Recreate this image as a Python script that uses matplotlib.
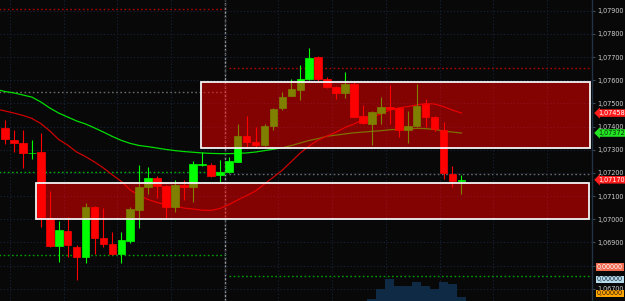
import numpy as np
import matplotlib
matplotlib.use('Agg')
import matplotlib.pyplot as plt
import matplotlib.transforms as mtransforms
from matplotlib.ticker import FuncFormatter

""" Candles (EURUSD style, 52 bars) """
opens = [1.07392, 1.07342, 1.07327, 1.07284, 1.07291, 1.07004, 1.06885, 1.06949, 1.06881, 1.06835,
         1.07051, 1.06920, 1.06893, 1.06850, 1.06907, 1.07039, 1.07140, 1.07176, 1.07143, 1.07054,
         1.07147, 1.07138, 1.07234, 1.07234, 1.07191, 1.07202, 1.07248, 1.07359, 1.07334, 1.07320,
         1.07402, 1.07479, 1.07533, 1.07558, 1.07604, 1.07699, 1.07604, 1.07569, 1.07543, 1.07584,
         1.07445, 1.07411, 1.07457, 1.07486, 1.07479, 1.07385, 1.07402, 1.07496, 1.07442, 1.07385,
         1.07195, 1.07164]
highs = [1.07428, 1.07385, 1.07385, 1.07342, 1.07371, 1.07123, 1.06993, 1.07011, 1.06888, 1.07068,
         1.07057, 1.07047, 1.06946, 1.06946, 1.07052, 1.07234, 1.07224, 1.07186, 1.07147, 1.07169,
         1.07169, 1.07251, 1.07291, 1.07241, 1.07255, 1.07268, 1.07411, 1.07445, 1.07397, 1.07411,
         1.07480, 1.07550, 1.07604, 1.07666, 1.07738, 1.07704, 1.07612, 1.07575, 1.07634, 1.07593,
         1.07493, 1.07465, 1.07526, 1.07579, 1.07486, 1.07467, 1.07584, 1.07517, 1.07445, 1.07421,
         1.07229, 1.07191]
lows = [1.07323, 1.07291, 1.07220, 1.07258, 1.06967, 1.06878, 1.06814, 1.06838, 1.06737, 1.06809,
        1.06850, 1.06881, 1.06845, 1.06809, 1.06896, 1.06960, 1.07109, 1.07090, 1.07004, 1.07032,
        1.07083, 1.07074, 1.07229, 1.07181, 1.07157, 1.07199, 1.07247, 1.07306, 1.07310, 1.07316,
        1.07385, 1.07471, 1.07530, 1.07514, 1.07601, 1.07593, 1.07566, 1.07517, 1.07522, 1.07439,
        1.07413, 1.07320, 1.07411, 1.07411, 1.07356, 1.07330, 1.07398, 1.07399, 1.07381, 1.07172,
        1.07140, 1.07109]
closes = [1.07345, 1.07327, 1.07284, 1.07287, 1.07011, 1.06885, 1.06953, 1.06888, 1.06835, 1.07051,
          1.06920, 1.06893, 1.06848, 1.06910, 1.07042, 1.07140, 1.07176, 1.07144, 1.07054, 1.07147,
          1.07140, 1.07238, 1.07238, 1.07188, 1.07205, 1.07252, 1.07359, 1.07334, 1.07320, 1.07402,
          1.07474, 1.07526, 1.07561, 1.07604, 1.07695, 1.07604, 1.07569, 1.07543, 1.07584, 1.07442,
          1.07416, 1.07461, 1.07486, 1.07476, 1.07385, 1.07402, 1.07490, 1.07442, 1.07388, 1.07198,
          1.07166, 1.07170]

# moving averages, first value belongs to the bar before the visible ones
ma_slow = [1.07560, 1.07551, 1.07545, 1.07536, 1.07527, 1.07506, 1.07480, 1.07458, 1.07441, 1.07424,
           1.07411, 1.07394, 1.07376, 1.07357, 1.07340, 1.07327, 1.07318, 1.07313, 1.07307, 1.07301,
           1.07296, 1.07292, 1.07289, 1.07286, 1.07284, 1.07283, 1.07283, 1.07284, 1.07286, 1.07290,
           1.07296, 1.07302, 1.07308, 1.07318, 1.07329, 1.07340, 1.07348, 1.07358, 1.07363, 1.07368,
           1.07373, 1.07376, 1.07379, 1.07382, 1.07386, 1.07388, 1.07390, 1.07392, 1.07391, 1.07387,
           1.07381, 1.07376, 1.07372]
ma_fast = [1.07476, 1.07467, 1.07458, 1.07448, 1.07435, 1.07413, 1.07381, 1.07344, 1.07320, 1.07290,
           1.07270, 1.07247, 1.07221, 1.07191, 1.07163, 1.07126, 1.07102, 1.07085, 1.07072, 1.07063,
           1.07057, 1.07048, 1.07044, 1.07039, 1.07038, 1.07046, 1.07063, 1.07083, 1.07102, 1.07122,
           1.07152, 1.07182, 1.07212, 1.07249, 1.07286, 1.07316, 1.07342, 1.07359, 1.07376, 1.07396,
           1.07411, 1.07430, 1.07441, 1.07454, 1.07471, 1.07480, 1.07486, 1.07493, 1.07499, 1.07497,
           1.07486, 1.07471, 1.07458]

# volume of the last bars
vol_idx = [41, 42, 43, 44, 45, 46, 47, 48, 49, 50, 51]
volume = [46, 276, 522, 352, 352, 444, 352, 276, 444, 384, 99]

# zones (price low, price high, bar start, bar end)
zone_upper = (1.07306, 1.07591, 21.9, 65.4)
zone_lower = (1.07000, 1.07158, 3.5, 65.2)

# day levels
day_split = 24.53
levels_prev = [(1.07906, '#b00000'), (1.07550, '#6a6a6a'), (1.07204, '#00b400'), (1.06845, '#00a000')]
levels_today = [(1.07653, '#b00000'), (1.07197, '#6a6a6a'), (1.06756, '#00a000')]

bg = '#080808'
fig = plt.figure(figsize=(6.25, 3.01), dpi=100, facecolor=bg)
ax = fig.add_axes([0, 0, 592 / 625, 1])
ax.set_facecolor(bg)

n = len(opens)
x = np.arange(n)
o = np.array(opens)
c = np.array(closes)
up = c >= o
cols = np.where(up, '#00ff00', '#ff0000')

ax.vlines(x, lows, highs, colors=cols, linewidth=0.8, zorder=3)
ax.bar(x, np.maximum(np.abs(c - o), 0.00003), bottom=np.minimum(o, c), width=0.85,
       color=cols, edgecolor=cols, linewidth=0.5, zorder=3)

xm = np.arange(-1, n)
ax.plot(xm, ma_slow, color='#00dd00', linewidth=0.9, zorder=2)
ax.plot(xm, ma_fast, color='#cc0000', linewidth=0.9, zorder=2)

# levels
for val, col in levels_prev:
    ax.hlines(val, -1, day_split, colors=col, linestyles=(0, (1.2, 1.8)), linewidth=1.0, zorder=1)
for val, col in levels_today:
    ax.hlines(val, 25.0, 70, colors=col, linestyles=(0, (1.2, 1.8)), linewidth=1.0, zorder=1)
ax.axvline(day_split, color='#9a9a9a', linestyle=(0, (2, 1)), linewidth=1.0, zorder=1)

# zones drawn over the candles
for lo, hi, x0, x1 in [zone_upper, zone_lower]:
    ax.add_patch(plt.Rectangle((x0, lo), x1 - x0, hi - lo, facecolor='#ff0000', alpha=0.5,
                               edgecolor='none', zorder=4))
    ax.add_patch(plt.Rectangle((x0, lo), x1 - x0, hi - lo, facecolor='none',
                               edgecolor='#f4f4f4', linewidth=1.3, zorder=5))

ax.set_xlim(-0.56, 65.59)
ax.set_ylim(1.06647, 1.07946)

ax.set_xticks(np.arange(0.55, 66, 6))
ax.set_yticks(np.arange(1.067, 1.0795, 0.001))
ax.grid(True, color='#17233a', linestyle=(0, (1, 2)), linewidth=0.8, zorder=0)
ax.tick_params(axis='x', length=0, labelbottom=False)
ax.yaxis.tick_right()
ax.tick_params(axis='y', length=2, width=0.8, color='#3a4a5a', pad=1.5,
               labelsize=4.7, labelcolor='#cfcfcf')
ax.yaxis.set_major_formatter(FuncFormatter(lambda v, p: ('%.5f' % v).replace('.', ',')))
for s in ['top', 'left', 'bottom']:
    ax.spines[s].set_visible(False)
ax.spines['right'].set_color('#233344')
ax.spines['right'].set_linewidth(1.0)

# volume pane
axv = fig.add_axes([0, 0, 592 / 625, 43 / 301], sharex=ax)
axv.patch.set_alpha(0)
axv.bar(vol_idx, volume, width=1.0, color='#0f2a44', linewidth=0)
axv.set_ylim(0, 1000)
axv.axis('off')

# price tags
trans = mtransforms.blended_transform_factory(ax.transAxes, ax.transData)
tags = [(ma_fast[-1], '#ff1c1c', 'white'), (ma_slow[-1], '#22e622', '#0a2a0a'),
        (closes[-1], '#ff1c1c', 'white')]
for val, fc, tc in tags:
    ax.text(1.0105, val, ('%.5f' % val).replace('.', ','), transform=trans, fontsize=4.7,
            color=tc, va='center', ha='left', clip_on=False, zorder=10,
            bbox=dict(boxstyle='larrow,pad=0.12', facecolor=fc, edgecolor='none'))

# indicator value tags
for yy, fc, tc in [(34 / 301, '#f26a4f', 'white'), (21.5 / 301, '#b6dcec', '#1a2a3a'),
                   (7.5 / 301, '#ffa500', '#2a1a00')]:
    fig.text(597 / 625, yy, '0,00000', fontsize=4.7, color=tc, va='center', ha='left',
             bbox=dict(boxstyle='square,pad=0.15', facecolor=fc, edgecolor='none'))

fig.savefig('out.png', dpi=100, facecolor=bg)
